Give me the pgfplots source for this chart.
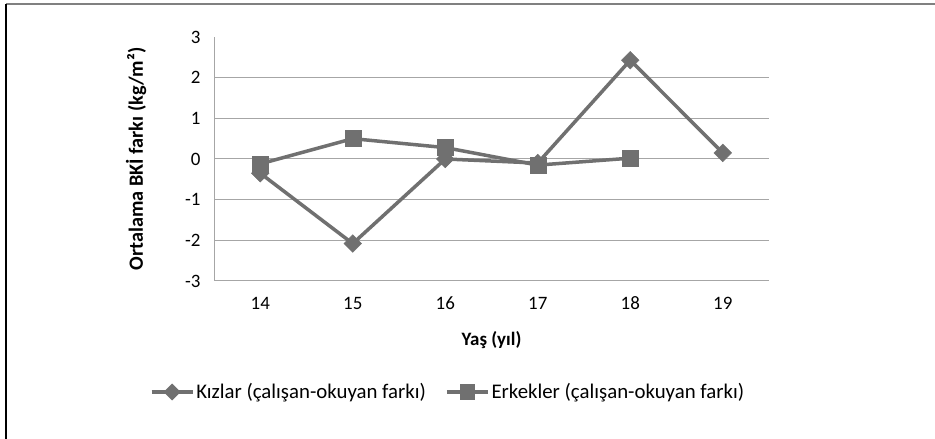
\documentclass[border=0pt]{standalone}
\usepackage{pgfplots}
\pgfplotsset{compat=1.18}
\usepackage{fontspec}
\setmainfont{Carlito}
\definecolor{linegray}{HTML}{707070}
\definecolor{gridgray}{HTML}{A6A6A6}
\pgfdeclareplotmark{mydiamond}{%
  \pgfpathmoveto{\pgfqpoint{0pt}{\pgfplotmarksize}}%
  \pgfpathlineto{\pgfqpoint{\pgfplotmarksize}{0pt}}%
  \pgfpathlineto{\pgfqpoint{0pt}{-\pgfplotmarksize}}%
  \pgfpathlineto{\pgfqpoint{-\pgfplotmarksize}{0pt}}%
  \pgfpathclose\pgfusepathqfillstroke}
\begin{document}
\begin{tikzpicture}[x=1bp,y=1bp]
\useasboundingbox (0,0) rectangle (935,439);
\fill[white] (0,0) rectangle (935,439);
\draw[line width=1.5bp,gray] (6,435) -- (935,435);
\draw[line width=1.5bp,black] (6,0) -- (6,435);
\begin{axis}[
  at={(214bp,158bp)}, anchor=south west,
  scale only axis, width=555bp, height=244bp,
  xmin=13.5, xmax=19.5, ymin=-3, ymax=3,
  xtick={14,...,19}, xticklabels={14,15,16,17,18,19},
  ytick={-3,...,2}, yticklabels={-3,-2,-1,0,1,2},
  extra y ticks={3}, extra y tick labels={3}, extra y tick style={grid=none},
  major tick length=0pt,
  ymajorgrids, grid style={gridgray, line width=1bp},
  separate axis lines,
  axis x line=bottom, axis y line=left,
  x axis line style={draw=none,-},
  y axis line style={gridgray,-,line width=1bp},
  tick label style={font=\fontsize{19}{21}\selectfont},
  yticklabel style={xshift=-10bp},
  xticklabel style={yshift=-12bp, text height=13bp, text depth=0pt},
  xlabel={\bfseries Yaş (yıl)},
  ylabel={\bfseries Ortalama BKİ farkı (kg/m²)},
  xlabel style={font=\fontsize{19}{21}\selectfont, yshift=-15bp},
  ylabel style={font=\fontsize{20.3}{22}\selectfont, yshift=32bp},
  legend columns=2,
  legend style={at={(-0.116,-0.455)}, anchor=west, draw=none, fill=none,
    font=\fontsize{20.9}{22}\selectfont, inner sep=0pt,
    /tikz/every even column/.append style={column sep=17bp}},
  legend image code/.code={
    \draw[line width=3.5bp,#1] (0bp,0bp) -- (41bp,0bp);
    \draw[#1, mark options={solid}, mark size=6bp] plot coordinates {(20.5bp,0bp)};
  },
]
\addplot[color=linegray, line width=3.5bp, mark=mydiamond, mark size=8.8bp,
  mark options={fill=linegray, line width=0.5bp}]
  coordinates {(14,-0.35) (15,-2.08) (16,0.0) (17,-0.1) (18,2.43) (19,0.15)};
\addlegendentry{Kızlar (çalışan-okuyan farkı)}
\addplot[color=linegray, line width=3.5bp, mark=square*, mark size=8bp,
  mark options={fill=linegray, line width=0.5bp}]
  coordinates {(14,-0.12) (15,0.5) (16,0.28) (17,-0.15) (18,0.02)};
\addlegendentry{Erkekler (çalışan-okuyan farkı)}
\end{axis}
\end{tikzpicture}
\end{document}
